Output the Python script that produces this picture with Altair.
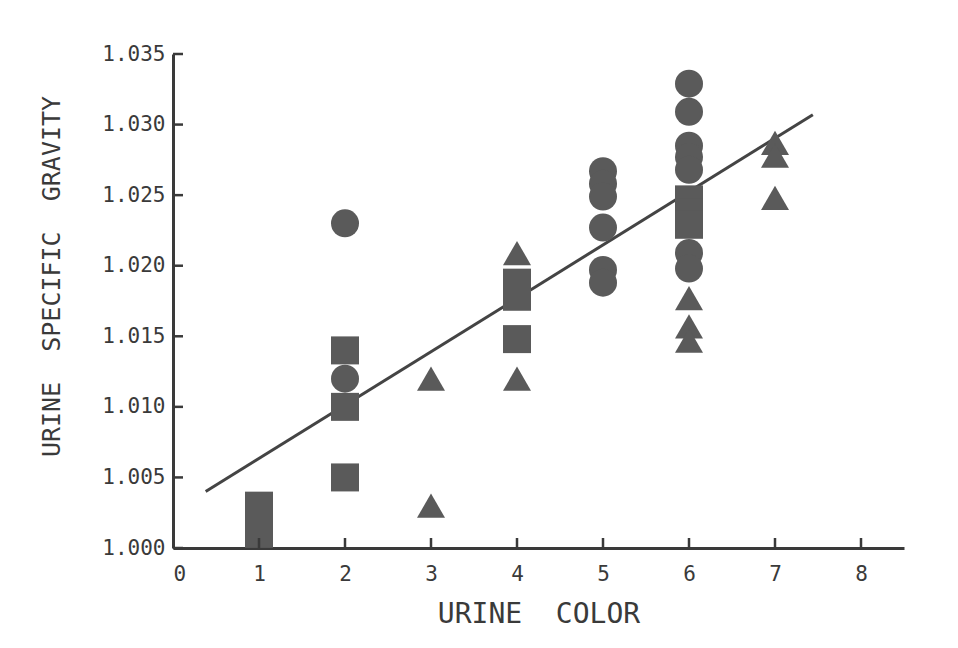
import altair as alt
import pandas as pd

# --- data ---
circle_x = [2, 2, 5, 5, 5, 5, 5, 5, 6, 6, 6, 6, 6, 6, 6]
circle_y = [1.023, 1.012, 1.0267, 1.0258, 1.0249, 1.0227, 1.0197, 1.0188,
            1.0329, 1.0309, 1.0285, 1.0277, 1.0268, 1.0209, 1.0198]
square_x = [1, 1, 1, 2, 2, 2, 4, 4, 4, 6, 6, 6]
square_y = [1.001, 1.002, 1.003, 1.014, 1.010, 1.005,
            1.0188, 1.0178, 1.0148, 1.0247, 1.0238, 1.0229]
triangle_x = [3, 3, 4, 4, 6, 6, 6, 7, 7, 7]
triangle_y = [1.012, 1.003, 1.0209, 1.012, 1.0177, 1.0157, 1.0147,
              1.0287, 1.0278, 1.0248]

fit_x = [0.38, 7.44]
fit_y = [1.0040, 1.0307]

x_ticks = [0, 1, 2, 3, 4, 5, 6, 7, 8]
y_ticks = [1.000, 1.005, 1.010, 1.015, 1.020, 1.025, 1.030, 1.035]

NB = "\u00a0"
x_title = "URINE" + NB * 2 + "COLOR"
y_title = "URINE" + NB * 2 + "SPECIFIC" + NB * 2 + "GRAVITY"

INK = "#3a3a3a"
MARK = "#5a5a5a"
FONT = "DejaVu Sans Mono"
W, H = 731, 494

pts = pd.DataFrame({
    "x": circle_x + square_x + triangle_x,
    "y": circle_y + square_y + triangle_y,
    "shape": ["circle"] * len(circle_x) + ["square"] * len(square_x)
             + ["triangle"] * len(triangle_x),
})
fit = pd.DataFrame({"x": fit_x, "y": fit_y})
xt = pd.DataFrame({"x": x_ticks[1:]})
yt = pd.DataFrame({"y": y_ticks})

xscale = alt.Scale(domain=[0, 8.5], nice=False, zero=False)
yscale = alt.Scale(domain=[1.000, 1.035], nice=False, zero=False)

xaxis = alt.Axis(values=x_ticks, format="d", grid=False, ticks=False,
                 domainColor=INK, domainWidth=3, labelFont=FONT,
                 labelFontSize=21, labelColor=INK, labelPadding=15,
                 title=x_title, titleFont=FONT, titleFontSize=28,
                 titleFontWeight="normal", titleColor=INK, titleY=66,
                 titleBaseline="middle")
yaxis = alt.Axis(values=y_ticks, format=".3f", grid=False, ticks=False,
                 domainColor=INK, domainWidth=3, labelFont=FONT,
                 labelFontSize=21, labelColor=INK, labelPadding=8,
                 title=y_title, titleFont=FONT,
                 titleFontSize=25, titleFontWeight="normal", titleColor=INK,
                 titleX=-122, titleY=222, titleAngle=-90,
                 titleAlign="center", titleBaseline="middle")

line = alt.Chart(fit).mark_line(color="#444444", strokeWidth=3).encode(
    x=alt.X("x:Q", scale=xscale, axis=xaxis),
    y=alt.Y("y:Q", scale=yscale, axis=yaxis),
)

points = alt.Chart(pts).mark_point(filled=True, size=784, opacity=1,
                                   color=MARK).encode(
    x=alt.X("x:Q", scale=xscale),
    y=alt.Y("y:Q", scale=yscale),
    shape=alt.Shape("shape:N", legend=None,
                    scale=alt.Scale(domain=["circle", "square", "triangle"],
                                    range=["circle", "square", "triangle-up"])),
)

xtick_rules = alt.Chart(xt).mark_rule(color=INK, strokeWidth=2.5).encode(
    x=alt.X("x:Q", scale=xscale),
    y=alt.value(H), y2=alt.value(H - 10),
)
ytick_rules = alt.Chart(yt).mark_rule(color=INK, strokeWidth=2.5).encode(
    y=alt.Y("y:Q", scale=yscale),
    x=alt.value(0), x2=alt.value(10),
)

chart = alt.layer(line, points, xtick_rules, ytick_rules).properties(
    width=W, height=H,
    autosize=alt.AutoSizeParams(type="none"),
    padding={"left": 165, "top": 46, "right": 20, "bottom": 90},
    background="white",
).configure_view(stroke=None)

chart.save("out.html", embed_options={"renderer": "svg", "actions": False})
